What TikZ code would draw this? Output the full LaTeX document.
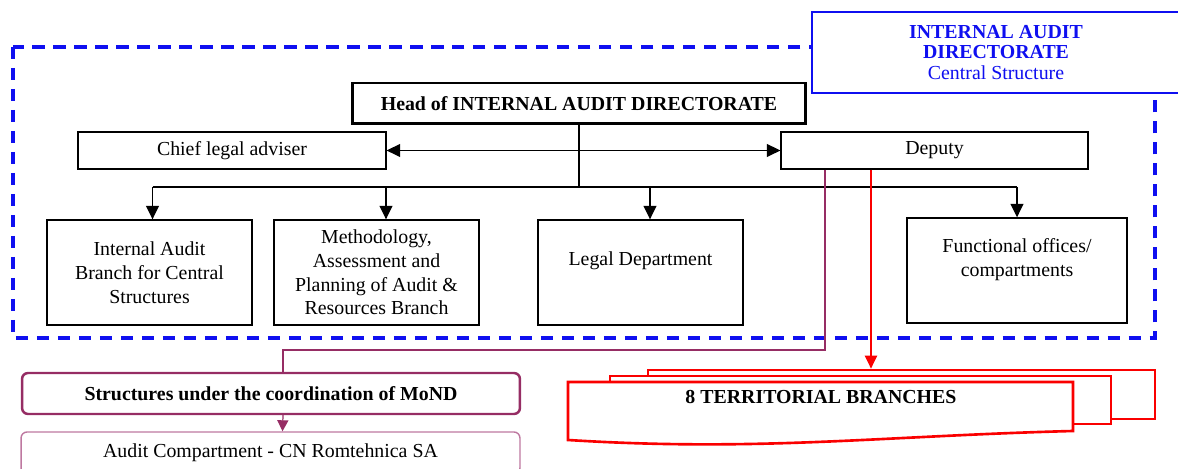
\documentclass[tikz,border=0pt]{standalone}
\usepackage{fontspec}
\setmainfont{Liberation Serif}
\usetikzlibrary{arrows.meta,positioning}
\definecolor{dirblue}{RGB}{15,15,240}
\definecolor{mondpurple}{RGB}{150,45,100}
\definecolor{mondlight}{RGB}{190,120,160}
\definecolor{terrred}{RGB}{250,0,0}
\begin{document}
\begin{tikzpicture}[x=0.02cm, y=-0.02cm, font=\fontsize{11.3}{13.5}\selectfont,
  box/.style = {draw, line width=0.8pt, inner sep=0pt, align=center, fill=white},
  unit/.style = {box, minimum width=4.1cm, minimum height=2.1cm},
  frame/.style = {draw=dirblue, line width=2pt, dash pattern=on 0.25cm off 0.17cm},
  arr/.style = {line width=0.8pt, -{Triangle[length=0.27cm, width=0.26cm]}},
  mond/.style = {draw=mondpurple, line width=0.7pt},
  terr/.style = {draw=terrred, line width=1.5pt, fill=white}]
\useasboundingbox (0,0) rectangle (1178,469);

\draw[frame] (13,47) rectangle (1155,338);

\node[box, draw=dirblue, text=dirblue, line width=1.5pt, minimum width=7.36cm, minimum height=1.62cm] (title) at (996,52.5)
  {\textbf{INTERNAL AUDIT}\\[-2pt]\textbf{DIRECTORATE}\\[-2pt]Central Structure};

\node[box, line width=1.7pt, minimum width=9.08cm, minimum height=0.82cm, font=\fontsize{11.3}{13.5}\selectfont\bfseries] (head) at (579,103.5) {Head of INTERNAL AUDIT DIRECTORATE};
\node[box, minimum width=6.16cm, minimum height=0.74cm] (chief) at (232,150.5) {Chief legal adviser};
\node[box, minimum width=6.14cm, minimum height=0.74cm] (deputy) at (934.5,150.5) {Deputy};

\node[unit] (iabranch) at (149.5,272.5) {Internal Audit\\Branch for Central\\Structures};
\node[unit] (method) at (376.5,272.5) {Methodology,\\Assessment and\\Planning of Audit \&\\Resources Branch};
\node[unit, label={[anchor=center, yshift=-0.82cm]north:Legal Department}] (legal) at (640.5,272.5) {};
\node[unit, minimum width=4.4cm, label={[anchor=center, align=center, yshift=-0.85cm]north:{Functional offices/\\compartments}}] (func) at (1017,270.5) {};

\coordinate (bus) at (577,187);
\draw[line width=0.8pt] (head.south) -- (head.south |- bus);
\draw[line width=0.8pt] ([xshift=0.06cm]iabranch.north |- bus) -- (func.north |- bus);
\draw[arr] ([xshift=0.06cm]iabranch.north |- bus) -- ([xshift=0.06cm]iabranch.north);
\draw[arr] ([xshift=0.19cm]method.north |- bus) -- ([xshift=0.19cm]method.north);
\draw[arr] ([xshift=0.19cm]legal.north |- bus) -- ([xshift=0.19cm]legal.north);
\draw[arr] (func.north |- bus) -- (func.north);
\draw[line width=0.8pt, {Triangle[length=0.27cm, width=0.26cm]}-{Triangle[length=0.27cm, width=0.26cm]}] (chief.east) -- (deputy.west);

\node[box, draw=mondpurple, line width=1.4pt, rounded corners=0.12cm, minimum width=9.96cm, minimum height=0.82cm, font=\fontsize{11.3}{13.5}\selectfont\bfseries] (struct) at (271,393.5) {Structures under the coordination of MoND};
\node[box, draw=mondlight, rounded corners=0.12cm, minimum width=9.98cm, minimum height=0.84cm] (audit) at (270.5,453) {Audit Compartment - CN Romtehnica SA};

\coordinate (mondturn) at (825,350);
\draw[mond] (deputy.south -| mondturn) -- (mondturn) -| ([xshift=0.24cm]struct.north);
\draw[mond, -{Triangle[length=0.22cm, width=0.22cm]}] ([xshift=0.24cm]struct.south) -- ([xshift=0.24cm]audit.north);

\node[terr, minimum width=10.14cm, minimum height=0.98cm, inner sep=0pt] (terrback) at (901.5,394.5) {};
\node[terr, minimum width=10.02cm, minimum height=0.96cm, inner sep=0pt] (terrmid) at (860.5,400) {};
\draw[terr] (568,382) -- (1073,382) -- (1073,431) .. controls (880,436) and (760,452) .. (568,440) -- cycle;
\node[font=\fontsize{11.3}{13.5}\selectfont\bfseries] (terr) at (821,397) {8 TERRITORIAL BRANCHES};

\coordinate (terrin) at (871,370);
\draw[draw=terrred, line width=1.2pt, -{Triangle[length=0.26cm, width=0.24cm]}] (deputy.south -| terrin) -- (terrback.north -| terrin);

\end{tikzpicture}
\end{document}
